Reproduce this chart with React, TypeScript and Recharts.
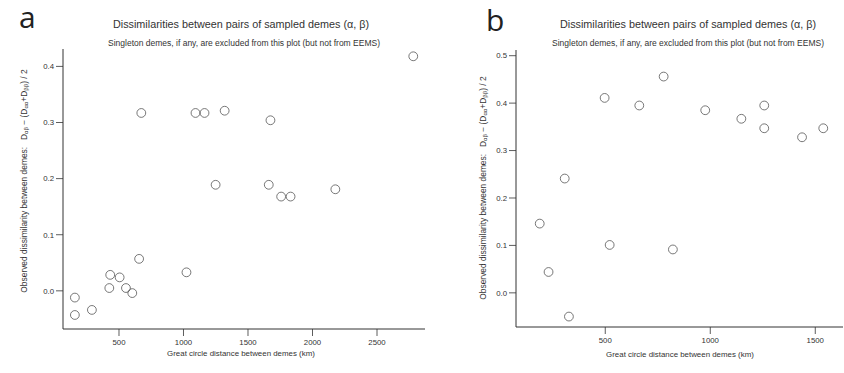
import React from "react";
import { ScatterChart, Scatter, XAxis, YAxis } from "recharts";

// Panel a data
const distA = [2781, 673, 1093, 1163, 1319, 1674, 1249, 1661, 1757, 1830, 2177, 656, 432, 505, 1023, 425, 554, 603, 158, 158, 290];
const dissA = [0.418, 0.317, 0.317, 0.317, 0.321, 0.304, 0.189, 0.189, 0.168, 0.168, 0.181, 0.057, 0.0285, 0.024, 0.033, 0.005, 0.005, -0.004, -0.012, -0.043, -0.034];
const xTicksA = [500, 1000, 1500, 2000, 2500];
const yTicksA = [0, 0.1, 0.2, 0.3, 0.4];

// Panel b data
const distB = [188, 230, 307, 327, 497, 521, 662, 778, 822, 976, 1148, 1257, 1257, 1437, 1538];
const dissB = [0.146, 0.044, 0.241, -0.05, 0.411, 0.101, 0.395, 0.456, 0.0915, 0.385, 0.367, 0.395, 0.347, 0.328, 0.347];
const xTicksB = [500, 1000, 1500];
const yTicksB = [0, 0.1, 0.2, 0.3, 0.4, 0.5];

const title = "Dissimilarities between pairs of sampled demes (\u03B1, \u03B2)";
const subtitle = "Singleton demes, if any, are excluded from this plot (but not from EEMS)";
const xTitle = "Great circle distance between demes (km)";

const dataA = distA.map((d, i) => ({ x: d, y: dissA[i] }));
const dataB = distB.map((d, i) => ({ x: d, y: dissB[i] }));

const FONT = "'Liberation Sans', Arial, Helvetica, sans-serif";
const INK = "#333";

const Circle = (props: any) => (
  <circle cx={props.cx} cy={props.cy} r={4.4} fill="none" stroke="#555" strokeWidth={0.8} />
);

const tickStyle = { fontSize: 7.8, fill: INK, fontFamily: FONT };
const boxLine = { stroke: INK, strokeWidth: 1 };

function Panel(props: {
  data: { x: number; y: number }[];
  xDomain: [number, number];
  yDomain: [number, number];
  xTicks: number[];
  yTicks: number[];
  width: number;
  margin: { top: number; right: number; bottom: number; left: number };
}) {
  const { data, xDomain, yDomain, xTicks, yTicks, width, margin } = props;
  return (
    <ScatterChart width={width} height={373} margin={margin}>
      <XAxis
        type="number"
        dataKey="x"
        domain={xDomain}
        ticks={xTicks}
        allowDataOverflow
        axisLine={boxLine}
        tickLine={{ stroke: INK, strokeWidth: 0.8 }}
        tickSize={7}
        tickMargin={3}
        height={30}
        tick={tickStyle}
        interval={0}
      />
      <XAxis
        xAxisId="top"
        orientation="top"
        type="number"
        domain={xDomain}
        allowDataOverflow
        axisLine={boxLine}
        tick={false}
        tickLine={false}
        height={0}
      />
      <YAxis
        type="number"
        dataKey="y"
        domain={yDomain}
        ticks={yTicks}
        allowDataOverflow
        axisLine={boxLine}
        tickLine={{ stroke: INK, strokeWidth: 0.8 }}
        tickSize={7}
        tickMargin={2}
        width={50}
        tick={tickStyle}
        tickFormatter={(v: number) => v.toFixed(1)}
        interval={0}
      />
      <YAxis
        yAxisId="right"
        orientation="right"
        type="number"
        domain={yDomain}
        allowDataOverflow
        axisLine={boxLine}
        tick={false}
        tickLine={false}
        width={0}
      />
      <Scatter data={data} shape={Circle} isAnimationActive={false} />
    </ScatterChart>
  );
}

const YTitle = ({ x, y }: { x: number; y: number }) => (
  <text
    x={x}
    y={y}
    transform={`rotate(-90 ${x} ${y})`}
    textAnchor="middle"
    dominantBaseline="central"
    fontSize={8.4}
    fill={INK}
    fontFamily={FONT}
  >
    Observed dissimilarity between demes:{"\u00A0\u00A0\u00A0"}D
    <tspan fontSize={6} dy={2}>{"\u03B1\u03B2"}</tspan>
    <tspan dy={-2}>{" \u2212 (D"}</tspan>
    <tspan fontSize={6} dy={2}>{"\u03B1\u03B1"}</tspan>
    <tspan dy={-2}>+D</tspan>
    <tspan fontSize={6} dy={2}>{"\u03B2\u03B2"}</tspan>
    <tspan dy={-2}>) / 2</tspan>
  </text>
);

export default function App() {
  return (
    <div style={{ position: "absolute", left: 0, top: 0, width: 844, height: 373, background: "#fff", overflow: "hidden" }}>
      <div style={{ position: "absolute", left: 0, top: 0 }}>
        <Panel
          data={dataA}
          xDomain={[66, 2872]}
          yDomain={[-0.068, 0.431]}
          xTicks={xTicksA}
          yTicks={yTicksA}
          width={430}
          margin={{ top: 49, right: 5, bottom: 14, left: 13 }}
        />
      </div>
      <div style={{ position: "absolute", left: 430, top: 0 }}>
        <Panel
          data={dataB}
          xDomain={[75, 1632]}
          yDomain={[-0.072, 0.512]}
          xTicks={xTicksB}
          yTicks={yTicksB}
          width={414}
          margin={{ top: 50, right: 1, bottom: 16, left: 36 }}
        />
      </div>
      <svg width={844} height={373} style={{ position: "absolute", left: 0, top: 0, pointerEvents: "none" }}>
        <text x={19} y={28} fontSize={30} fill="#222" fontFamily="'Open Sans', 'Noto Sans', sans-serif">a</text>
        <text x={486} y={31} fontSize={30} fill="#222" fontFamily="'Open Sans', 'Noto Sans', sans-serif">b</text>

        <text x={241} y={28} textAnchor="middle" fontSize={10.8} fill={INK} fontFamily={FONT}>{title}</text>
        <text x={244} y={46} textAnchor="middle" fontSize={8.5} fill={INK} fontFamily={FONT}>{subtitle}</text>
        <text x={688} y={28} textAnchor="middle" fontSize={10.8} fill={INK} fontFamily={FONT}>{title}</text>
        <text x={688} y={46} textAnchor="middle" fontSize={8.5} fill={INK} fontFamily={FONT}>{subtitle}</text>

        <text x={241} y={356} textAnchor="middle" fontSize={7.9} fill={INK} fontFamily={FONT}>{xTitle}</text>
        <text x={680} y={357} textAnchor="middle" fontSize={7.9} fill={INK} fontFamily={FONT}>{xTitle}</text>

        <YTitle x={24} y={181} />
        <YTitle x={483} y={188} />
      </svg>
    </div>
  );
}
